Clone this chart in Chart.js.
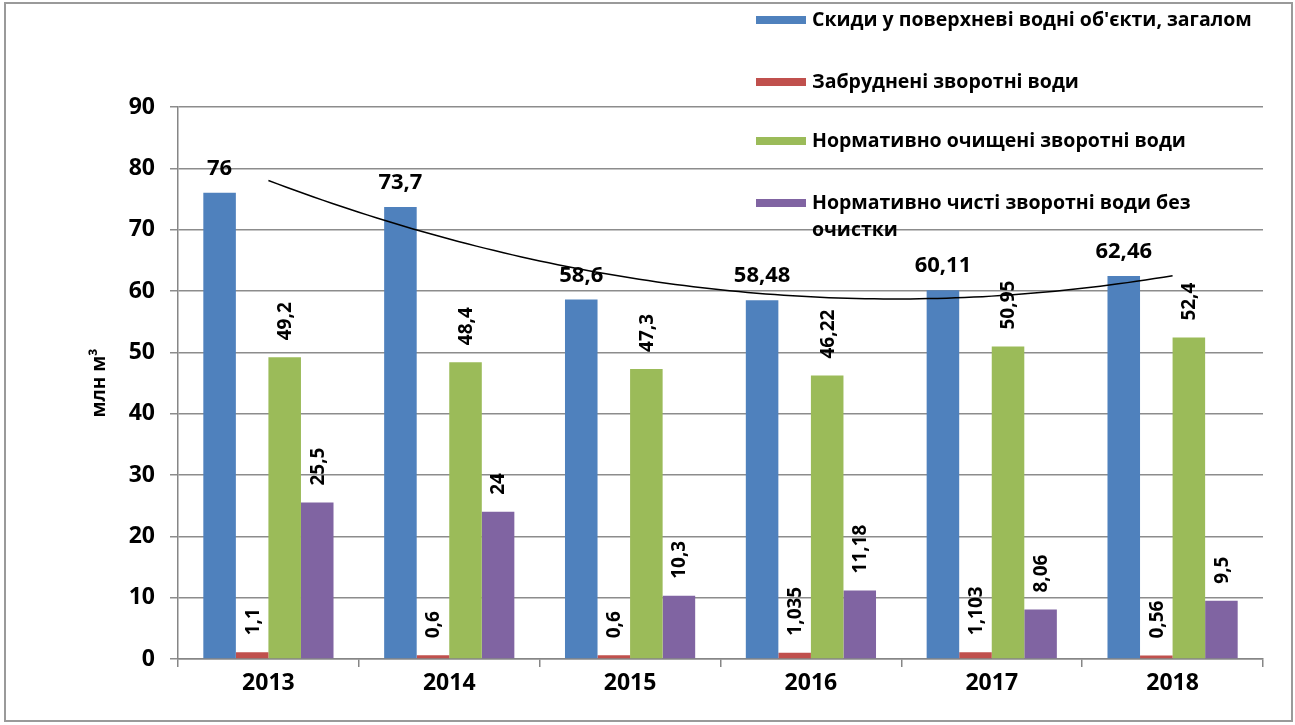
<!DOCTYPE html>
<html>
<head>
<meta charset="utf-8">
<script src="https://cdn.jsdelivr.net/npm/chart.js@4/dist/chart.umd.min.js"></script>
<style>
  html, body { margin: 0; padding: 0; background: #fff; }
  #wrap { width: 1295px; height: 725px; }
</style>
</head>
<body>
<div id="wrap"><canvas id="chart" width="1295" height="725"></canvas></div>
<script>
const years = ['2013', '2014', '2015', '2016', '2017', '2018'];
const totalDischarge = [76, 73.7, 58.6, 58.48, 60.11, 62.46];
const pollutedWater = [1.1, 0.6, 0.6, 1.035, 1.103, 0.56];
const treatedWater = [49.2, 48.4, 47.3, 46.22, 50.95, 52.4];
const cleanNoTreatment = [25.5, 24, 10.3, 11.18, 8.06, 9.5];
const yTicks = [0, 10, 20, 30, 40, 50, 60, 70, 80, 90];

const seriesLabels = [
    'Скиди у поверхневі водні об\'єкти, загалом',
    'Забруднені зворотні води',
    'Нормативно очищені зворотні води',
    'Нормативно чисті зворотні води без очистки'
];
const colors = ['#4F81BD', '#C0504D', '#9BBB59', '#8064A2'];
const FONT = '"Open Sans", "Noto Sans", sans-serif';

function fmt(v) {
    return String(v).replace('.', ',');
}

// quadratic least-squares trend over the blue series (like the Excel trendline)
function quadFit(ys) {
    let s = [0, 0, 0, 0, 0], t = [0, 0, 0];
    ys.forEach(function(y, i) {
        const x = i + 1;
        for (let k = 0; k < 5; k++) s[k] += Math.pow(x, k);
        for (let k = 0; k < 3; k++) t[k] += Math.pow(x, k) * y;
    });
    const m = [[s[0], s[1], s[2], t[0]], [s[1], s[2], s[3], t[1]], [s[2], s[3], s[4], t[2]]];
    for (let i = 0; i < 3; i++) {
        for (let j = i + 1; j < 3; j++) {
            const f = m[j][i] / m[i][i];
            for (let k = i; k < 4; k++) m[j][k] -= f * m[i][k];
        }
    }
    const c = [0, 0, 0];
    for (let i = 2; i >= 0; i--) {
        let v = m[i][3];
        for (let k = i + 1; k < 3; k++) v -= m[i][k] * c[k];
        c[i] = v / m[i][i];
    }
    return function(x) { return c[0] + c[1] * x + c[2] * x * x; };
}
const trend = quadFit(totalDischarge);

const framePlugin = {
    id: 'frame',
    beforeDraw: function(chart) {
        const ctx = chart.ctx;
        ctx.save();
        ctx.fillStyle = '#fff';
        ctx.fillRect(0, 0, chart.width, chart.height);
        ctx.strokeStyle = '#9a9a9a';
        ctx.lineWidth = 2;
        ctx.strokeRect(5, 3, 1287, 718);
        ctx.restore();
    }
};

const overlayPlugin = {
    id: 'overlay',
    afterDatasetsDraw: function(chart) {
        const ctx = chart.ctx;
        const xs = chart.scales.x, ys = chart.scales.y;

        // trend line
        ctx.save();
        ctx.beginPath();
        for (let i = 0; i <= 100; i++) {
            const xv = i / 100 * (years.length - 1);
            const px = xs.getPixelForValue(xv);
            const py = ys.getPixelForValue(trend(xv + 1));
            if (i === 0) ctx.moveTo(px, py); else ctx.lineTo(px, py);
        }
        ctx.strokeStyle = '#000';
        ctx.lineWidth = 1.5;
        ctx.stroke();
        ctx.restore();

        // value labels
        chart.data.datasets.forEach(function(ds, di) {
            const meta = chart.getDatasetMeta(di);
            meta.data.forEach(function(bar, i) {
                ctx.save();
                ctx.fillStyle = '#000';
                if (di === 0) {
                    ctx.font = 'bold 22px ' + FONT;
                    ctx.textAlign = 'center';
                    ctx.textBaseline = 'alphabetic';
                    ctx.fillText(fmt(ds.data[i]), bar.x, bar.y - 18);
                } else {
                    ctx.font = 'bold 19px ' + FONT;
                    ctx.translate(bar.x, bar.y - 17);
                    ctx.rotate(-Math.PI / 2);
                    ctx.textAlign = 'left';
                    ctx.textBaseline = 'middle';
                    ctx.fillText(fmt(ds.data[i]), 0, 1);
                }
                ctx.restore();
            });
        });

        // legend
        const rows = [20, 82, 141, 203];
        ctx.save();
        ctx.font = 'bold 19.5px ' + FONT;
        ctx.textBaseline = 'middle';
        ctx.textAlign = 'left';
        seriesLabels.forEach(function(lab, i) {
            ctx.fillStyle = colors[i];
            ctx.fillRect(756, rows[i] - 4, 50, 8);
            ctx.fillStyle = '#000';
            if (i === 3) {
                ctx.fillText('Нормативно чисті зворотні води без', 812, rows[i]);
                ctx.fillText('очистки', 812, rows[i] + 27);
            } else {
                ctx.fillText(lab, 812, rows[i]);
            }
        });
        ctx.restore();
    }
};

new Chart(document.getElementById('chart'), {
    type: 'bar',
    data: {
        labels: years,
        datasets: [
            { label: seriesLabels[0], data: totalDischarge, backgroundColor: colors[0] },
            { label: seriesLabels[1], data: pollutedWater, backgroundColor: colors[1] },
            { label: seriesLabels[2], data: treatedWater, backgroundColor: colors[2] },
            { label: seriesLabels[3], data: cleanNoTreatment, backgroundColor: colors[3] }
        ]
    },
    options: {
        responsive: false,
        animation: false,
        layout: { padding: { top: 107, right: 32, bottom: 0, left: 0 } },
        datasets: {
            bar: { categoryPercentage: 0.72, barPercentage: 1.0 }
        },
        scales: {
            x: {
                grid: { display: true, drawOnChartArea: false, offset: true, tickLength: 8, color: '#868686', lineWidth: 1.5 },
                border: { color: '#868686', width: 1.5 },
                ticks: { color: '#000', font: { family: FONT, size: 23, weight: 'bold' }, padding: 3 },
                afterFit: function(scale) { scale.height = 66; }
            },
            y: {
                min: 0,
                max: 90,
                afterBuildTicks: function(scale) {
                    scale.ticks = yTicks.map(function(v) { return { value: v }; });
                },
                grid: { color: '#8c8c8c', lineWidth: 1.5, tickLength: 8 },
                border: { color: '#868686', width: 1.5 },
                ticks: { color: '#000', font: { family: FONT, size: 23, weight: 'bold' }, padding: 15 },
                title: {
                    display: true,
                    text: 'млн м³',
                    color: '#000',
                    font: { family: FONT, size: 19, weight: 'bold' },
                    padding: { top: 88, bottom: 0 }
                },
                afterFit: function(scale) { scale.width = 178; }
            }
        },
        plugins: {
            legend: { display: false },
            tooltip: { enabled: false }
        }
    },
    plugins: [framePlugin, overlayPlugin]
});
</script>
</body>
</html>
